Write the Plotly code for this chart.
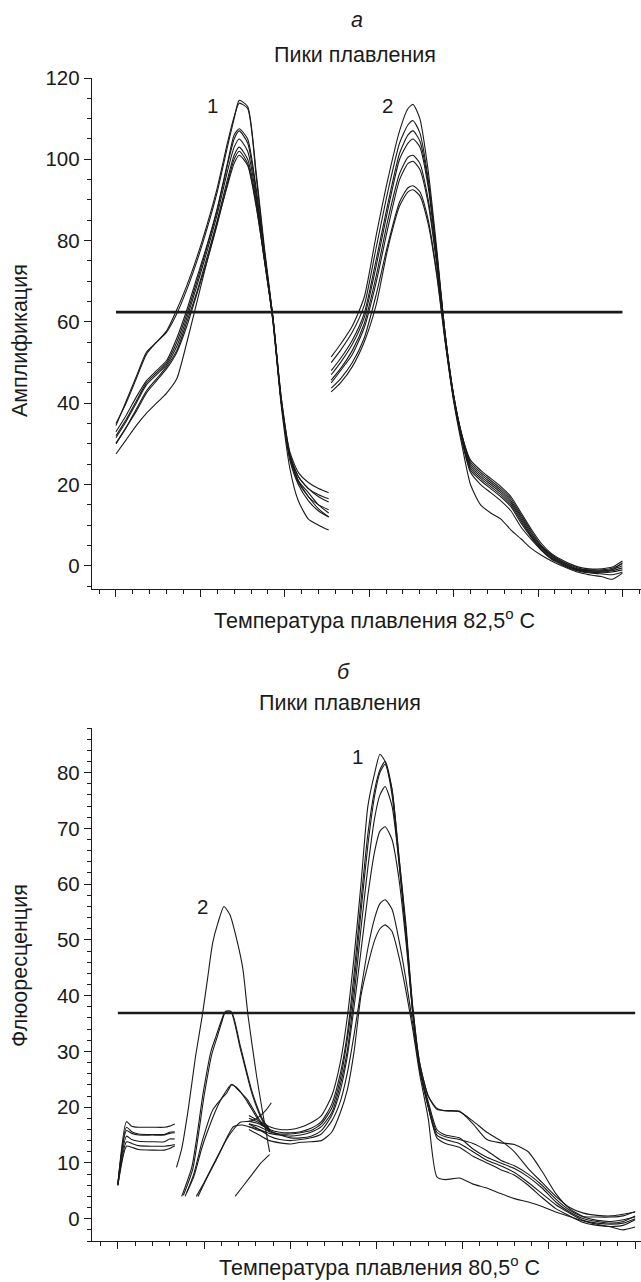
import plotly.graph_objects as go

# ---------------- panel a (top) ----------------
A_THRESHOLD = 62.4
A_PEAK1_X = [0, 0.6, 1.2, 1.8, 2.4, 3.0, 3.6, 4.2, 4.8, 5.4, 6.0, 6.6, 7.0, 7.3, 7.8, 8.3, 8.8, 9.3, 9.8, 10.3, 10.8, 11.4, 12.0, 12.6]
A_PEAK1_Y1 = [35, 40, 46, 52, 55, 57.5, 62, 68, 75, 83, 92, 103, 110, 114.5, 113, 97, 78, 61, 40, 27, 22, 19, 17.5, 16.5]
A_PEAK1_Y2 = [34.5, 40.5, 46.5, 52.5, 55, 57.8, 63, 69, 76, 84, 93, 104, 110.5, 113.8, 112.5, 96, 77, 60, 40, 27, 21, 17, 15, 13.8]
A_PEAK1_Y3 = [33, 37, 41.5, 45.5, 48, 50.5, 56, 63, 71, 79, 88, 99, 106, 107.5, 105, 93, 77, 61, 41, 28, 23, 20.5, 19, 18]
A_PEAK1_Y4 = [32, 36, 40.5, 45, 47.5, 50, 55, 62, 70, 78.5, 87.5, 98.5, 105, 107, 104, 92, 76, 61, 41, 27.5, 22, 19, 17, 15.7]
A_PEAK1_Y5 = [31.5, 35.5, 40, 44.5, 47, 49.5, 54, 61, 69, 77.5, 86.5, 97, 103, 105, 102, 91, 76, 61, 40, 27, 21, 18, 15, 13]
A_PEAK1_Y6 = [30.2, 34, 38.5, 43, 46, 49, 53, 60, 67.5, 76, 85, 95, 101, 103, 100, 90, 75, 60.5, 40, 26.5, 20.5, 17, 14, 12]
A_PEAK1_Y7 = [30, 34, 38, 42.5, 45.5, 48.5, 52.5, 59, 67, 75, 84, 94, 100, 102, 99, 89, 75, 60.5, 40, 26, 20, 16, 13.5, 12]
A_PEAK1_Y8 = [27.5, 31, 34.5, 37.5, 40, 42.5, 46, 55, 65, 75, 84.5, 93.5, 99, 101, 98.5, 88.5, 75, 60, 39, 24, 16, 11.5, 10, 8.8]

A_PEAK2_X = [12.75, 13.3, 14.0, 14.7, 15.4, 16.1, 16.8, 17.3, 17.6, 18.0, 18.5, 19.0, 19.5, 20.0, 20.5, 21.0, 21.6, 22.2, 22.8, 23.4, 24.0, 24.6, 25.2, 25.8, 26.4, 27.0, 27.6, 28.2, 28.8, 29.4, 30.0]
A_PEAK2_Y1 = [51.4, 54.5, 59, 66, 81, 95, 107, 112.5, 113.5, 110, 97, 78, 57, 42, 32, 26, 23.5, 21.5, 19.5, 17, 13, 9, 5.5, 3, 1.5, 0.3, -0.5, -0.8, -0.7, -0.3, 1.2]
A_PEAK2_Y2 = [50, 53, 57.5, 64, 78, 92, 104, 108.5, 109.5, 106.5, 95, 77, 57, 42, 32, 25.5, 23, 21, 19, 16.5, 12.5, 8.5, 5, 2.8, 1.2, 0, -0.8, -1, -1, -0.6, 0.5]
A_PEAK2_Y3 = [48, 51, 55.5, 62, 75, 89, 101.5, 106, 107, 104.5, 94, 76.5, 57, 42, 32, 25, 22.5, 20.5, 18.5, 16, 12, 8, 4.8, 2.5, 1, -0.2, -1, -1.2, -1.2, -0.9, 0]
A_PEAK2_Y4 = [47, 50, 54.5, 61, 73.5, 87.5, 100, 104, 105, 103, 93, 76, 56.5, 41.5, 31.5, 24.5, 22, 20, 18, 15.5, 11.5, 7.5, 4.5, 2.3, 0.8, -0.4, -1.1, -1.3, -1.3, -1, 0.8]
A_PEAK2_Y5 = [45.7, 48.5, 53, 59.5, 71, 85, 96.5, 100.5, 101, 99, 90, 75, 56, 41.5, 31.5, 24, 21.5, 19.5, 17.5, 15, 11, 7.2, 4.2, 2, 0.6, -0.5, -1.2, -1.5, -1.5, -1.2, -0.5]
A_PEAK2_Y6 = [45, 48, 52, 58.5, 69.5, 83, 95, 99, 99.5, 97.5, 89, 74, 55.5, 41, 31, 23.5, 21, 19, 17, 14.5, 10.5, 7, 4, 1.8, 0.5, -0.6, -1.3, -1.6, -1.7, -1.5, -1]
A_PEAK2_Y7 = [43.7, 46, 50, 56, 66.5, 79, 89.5, 93, 93.5, 92, 85, 72, 55.5, 41, 30.5, 23, 20, 18, 16, 13.5, 9.5, 6.5, 3.8, 1.6, 0.3, -0.8, -1.5, -1.8, -2, -2.2, -1.5]
A_PEAK2_Y8 = [42.8, 45, 49, 55, 64, 78, 88.5, 92, 92.5, 91, 84, 71.5, 55, 40.5, 29.5, 20, 15, 13, 11.5, 8.8, 6.6, 4.3, 2.6, 1.2, 0, -1, -1.8, -2.3, -2.7, -3.3, -1.8]

# ---------------- panel б (bottom) ----------------
B_THRESHOLD = 36.9
B_START_X = [0, 0.5, 0.8, 1.2, 2.0, 2.7, 3.0, 3.3]
B_START_Y1 = [6.2, 17.4, 16.6, 16.4, 16.4, 16.4, 16.6, 17.0]
B_START_Y2 = [6.2, 16.4, 15.6, 15.2, 15.1, 15.1, 15.5, 15.6]
B_START_Y3 = [6.3, 15.8, 15.3, 15.0, 15.0, 15.0, 15.3, 15.4]
B_START_Y4 = [6.0, 14.8, 14.2, 13.9, 13.8, 13.8, 14.3, 14.3]
B_START_Y5 = [6.0, 13.8, 13.5, 13.1, 13.0, 13.0, 13.1, 13.3]
B_START_Y6 = [6.0, 13.0, 12.8, 12.4, 12.3, 12.3, 12.6, 13.1]

B_PEAK2_X1 = [3.4, 3.7, 4.1, 4.5, 4.9, 5.2, 5.5, 5.8, 6.15, 6.5, 6.9, 7.25, 7.55, 8.05, 8.4, 8.8]
B_PEAK2_Y1 = [9.2, 12.5, 20, 29, 36.5, 43, 49.5, 53, 56, 54.5, 50, 44.8, 36.4, 25.5, 19, 12]
B_PEAK2_X2 = [3.7, 4.3, 4.95, 5.4, 5.7, 6.0, 6.2, 6.6, 7.1, 7.8, 8.4, 8.8]
B_PEAK2_Y2 = [4, 9.4, 22.6, 30, 32.8, 35.5, 37, 37, 31, 22.6, 17.8, 16]
B_PEAK2_X3 = [3.8, 4.35, 5.0, 5.45, 5.75, 6.05, 6.25, 6.55, 7.1, 7.8, 8.4, 8.85]
B_PEAK2_Y3 = [4.2, 9, 22, 29.5, 32.5, 35.5, 37.2, 37.2, 30.5, 22.2, 17.5, 15.8]
B_PEAK2_X4 = [4.0, 4.4, 4.9, 5.3, 5.7, 6.1, 6.6, 7.0, 7.5, 8.2, 8.8]
B_PEAK2_Y4 = [4.7, 7.5, 13, 16.5, 19.6, 22, 24.1, 23, 21.4, 17.8, 15.5]
B_PEAK2_X5 = [3.9, 4.4, 4.9, 5.5, 6.0, 6.3, 6.6, 7.0, 7.5, 8.2, 8.8]
B_PEAK2_Y5 = [4, 8, 14, 19.5, 21.5, 22.5, 24, 23.2, 21, 17.5, 15.8]
B_PEAK2_X6 = [4.65, 5.2, 5.7, 6.3, 6.7, 7.1, 7.7, 8.2, 8.6, 8.9]
B_PEAK2_Y6 = [4, 7.5, 10.5, 14.2, 16, 17.3, 17.5, 18.3, 19.5, 20.8]
B_PEAK2_X7 = [4.55, 5.0, 5.5, 6.0, 6.7, 7.2, 7.6, 8.0, 8.6]
B_PEAK2_Y7 = [4, 6.5, 9.5, 12.5, 16.5, 16.8, 16.5, 16, 15.5]
B_PEAK2_X8 = [6.8, 7.3, 7.8, 8.3, 8.8]
B_PEAK2_Y8 = [4, 6, 8, 10, 11.5]

B_PEAK1_X = [7.6, 8.2, 8.8, 9.4, 10.0, 10.6, 11.2, 11.8, 12.4, 12.9, 13.3, 13.7, 14.1, 14.5, 14.9, 15.2, 15.5, 15.9, 16.3, 16.7, 17.1, 17.5, 18.0, 18.5, 19.0, 19.8, 20.6, 21.4, 22.2, 23.0, 23.8, 24.6, 25.4, 26.2, 27.0, 27.8, 28.6, 29.3, 30.0]
B_PEAK1_Y1 = [18.5, 17.5, 16.5, 16.0, 16.0, 16.4, 17.2, 18.5, 22, 28, 36, 47, 60, 74, 80, 83.3, 82, 76, 64, 52, 38, 28, 22, 19.6, 19.4, 19.3, 17, 14.2, 13.6, 13.3, 12, 8.5, 4.5, 1.8, 0.4, 0.3, 0.3, 0.5, 1.3]
B_PEAK1_Y2 = [17.5, 17, 16, 15.5, 15.4, 15.6, 16.2, 17.4, 20.5, 26, 33, 44, 57, 69, 77, 80.5, 82, 77, 65, 53, 38, 28, 22, 19.8, 19.3, 19.2, 17.5, 15.5, 14, 12, 9, 6.5, 4, 2, 1, 0.6, 0.5, 0.8, 1.2]
B_PEAK1_Y3 = [17, 16.5, 15.6, 15.2, 15.2, 15.4, 15.8, 17, 19.8, 25, 32, 42, 55, 67, 76, 80, 81.5, 77, 65, 52, 37, 27, 21, 16, 15, 14.5, 12.5, 11, 10, 9, 7.5, 5.5, 3, 1.2, 0, -0.5, -0.8, -0.5, 0.5]
B_PEAK1_Y4 = [16.5, 16, 15.3, 15, 14.8, 15, 15.5, 16.5, 19, 24, 30, 40, 52, 63, 72, 76, 77.5, 74, 64, 51, 37, 27, 20.5, 15.5, 14.7, 14.2, 13.5, 12.2, 10.5, 9.5, 8, 6, 3.5, 1.5, 0.3, -0.3, -0.5, -0.2, 0.3]
B_PEAK1_Y5 = [18, 17.2, 15.8, 15, 14.5, 14.5, 14.8, 15.8, 18.5, 23, 29, 38, 48, 58, 66, 69.5, 70.3, 68, 61, 50, 37, 27, 20, 15, 14.2, 13.5, 12, 10.5, 9.5, 8.3, 6.5, 4.5, 2.5, 1, -0.3, -0.8, -1, -0.8, 0]
B_PEAK1_Y6 = [17, 16, 14.8, 14.2, 14, 14.2, 14.5, 15.2, 17.5, 21, 26, 33, 41, 48.5, 54, 56.5, 57.2, 55.5, 50, 43, 35, 27, 20, 14.5, 13.5, 12.8, 11.2, 10, 8.8, 7.8, 6, 3.8, 1.8, 0.5, -0.7, -1.2, -1.4, -1.2, -0.2]
B_PEAK1_Y7 = [16, 15, 14, 13.6, 13.4, 13.7, 13.8, 14, 15.5, 19, 23, 30, 40, 45.5, 50, 52, 52.7, 51.5, 47, 41, 34, 26, 18, 7.5, 7, 7.3, 6.2, 5.5, 4.5, 3.6, 3, 2.2, 1.2, 0.4, -0.4, -1, -1.5, -2, -1.5]

A_LABELS = ["1", "2"]
A_LABEL_X = [5.69, 16.07]
A_LABEL_Y = [113.3, 113.3]
B_LABELS = ["1", "2"]
B_LABEL_X = [13.9, 4.93]
B_LABEL_Y = [82.9, 55.9]

FONT = "Liberation Sans, Arial, Helvetica, sans-serif"
INK = "#1a1a1a"
LW = 1.1
TITLE_SIZE = 21.5

fig = go.Figure()


def add_curves(xs, ys_list, xa, ya):
    for ys in ys_list:
        fig.add_trace(go.Scatter(x=xs, y=ys, mode="lines", xaxis=xa, yaxis=ya,
                                 line=dict(color=INK, width=LW, shape="spline", smoothing=0.6),
                                 hoverinfo="skip"))


add_curves(A_PEAK1_X, [A_PEAK1_Y1, A_PEAK1_Y2, A_PEAK1_Y3, A_PEAK1_Y4,
                       A_PEAK1_Y5, A_PEAK1_Y6, A_PEAK1_Y7, A_PEAK1_Y8], "x", "y")
add_curves(A_PEAK2_X, [A_PEAK2_Y1, A_PEAK2_Y2, A_PEAK2_Y3, A_PEAK2_Y4,
                       A_PEAK2_Y5, A_PEAK2_Y6, A_PEAK2_Y7, A_PEAK2_Y8], "x", "y")
fig.add_trace(go.Scatter(x=[0, 30], y=[A_THRESHOLD, A_THRESHOLD], mode="lines",
                         xaxis="x", yaxis="y", line=dict(color=INK, width=2.6), hoverinfo="skip"))

add_curves(B_START_X, [B_START_Y1, B_START_Y2, B_START_Y3, B_START_Y4, B_START_Y5, B_START_Y6], "x2", "y2")
for bx, by in [(B_PEAK2_X1, B_PEAK2_Y1), (B_PEAK2_X2, B_PEAK2_Y2), (B_PEAK2_X3, B_PEAK2_Y3),
               (B_PEAK2_X4, B_PEAK2_Y4), (B_PEAK2_X5, B_PEAK2_Y5), (B_PEAK2_X6, B_PEAK2_Y6),
               (B_PEAK2_X7, B_PEAK2_Y7), (B_PEAK2_X8, B_PEAK2_Y8)]:
    add_curves(bx, [by], "x2", "y2")
add_curves(B_PEAK1_X, [B_PEAK1_Y1, B_PEAK1_Y2, B_PEAK1_Y3, B_PEAK1_Y4,
                       B_PEAK1_Y5, B_PEAK1_Y6, B_PEAK1_Y7], "x2", "y2")
fig.add_trace(go.Scatter(x=[0, 30], y=[B_THRESHOLD, B_THRESHOLD], mode="lines",
                         xaxis="x2", yaxis="y2", line=dict(color=INK, width=2.6), hoverinfo="skip"))

tickfont = dict(family=FONT, size=20.5, color=INK)


def xaxis(rng, anchor):
    return dict(domain=[0, 1], anchor=anchor, range=rng, showgrid=False, zeroline=False,
                showline=True, linecolor=INK, linewidth=1.4,
                ticks="outside", ticklen=7, tickwidth=1.2, tickcolor=INK,
                tickmode="linear", tick0=0, dtick=5, showticklabels=False,
                minor=dict(ticks="outside", ticklen=4, tickwidth=1, tickcolor=INK,
                           tickmode="linear", tick0=0, dtick=1, showgrid=False))


def yaxis(dom, rng, dt, mdt, anchor):
    return dict(domain=dom, anchor=anchor, range=rng, showgrid=False, zeroline=False,
                showline=True, linecolor=INK, linewidth=1.4,
                ticks="outside", ticklen=7, tickwidth=1.2, tickcolor=INK,
                tickmode="linear", tick0=0, dtick=dt, tickfont=tickfont,
                minor=dict(ticks="outside", ticklen=4, tickwidth=1, tickcolor=INK,
                           tickmode="linear", tick0=0, dtick=mdt, showgrid=False))


def px2paper(px, py):
    return (px - 92) / 549.0, (1241 - py) / 1163.0


annotations = []


def text(px, py, s, size=TITLE_SIZE, angle=0, yanchor="middle"):
    xp, yp = px2paper(px, py)
    annotations.append(dict(x=xp, y=yp, xref="paper", yref="paper", text=s, showarrow=False,
                            xanchor="center", yanchor=yanchor, textangle=angle,
                            font=dict(family=FONT, size=size, color=INK)))


text(357, 20, "<i>а</i>")
text(355, 55, "Пики плавления")
text(374, 619, "Температура плавления 82,5<sup>o</sup> C")
text(20, 341, "Амплификация", angle=-90)
text(343, 672, "<i>б</i>")
text(340, 703, "Пики плавления")
text(379, 1282, "Температура плавления 80,5<sup>o</sup> C", yanchor="bottom")
text(20, 966, "Флюоресценция", angle=-90)

for s, lx, ly in zip(A_LABELS, A_LABEL_X, A_LABEL_Y):
    annotations.append(dict(x=lx, y=ly, xref="x", yref="y", text=s, showarrow=False,
                            font=dict(family=FONT, size=20.5, color=INK)))
for s, lx, ly in zip(B_LABELS, B_LABEL_X, B_LABEL_Y):
    annotations.append(dict(x=lx, y=ly, xref="x2", yref="y2", text=s, showarrow=False,
                            font=dict(family=FONT, size=20.5, color=INK)))

fig.update_layout(
    width=641, height=1282,
    margin=dict(l=92, r=0, t=78, b=41),
    paper_bgcolor="white", plot_bgcolor="white",
    showlegend=False,
    xaxis=xaxis([-1.42, 31.1], "y"),
    yaxis=yaxis([0.5606, 1], [-5.7, 120], 20, 5, "x"),
    xaxis2=xaxis([-1.5, 30.34], "y2"),
    yaxis2=yaxis([0, 0.4411], [-4, 88], 10, 2, "x2"),
    annotations=annotations,
)

fig.write_html("out.html")
